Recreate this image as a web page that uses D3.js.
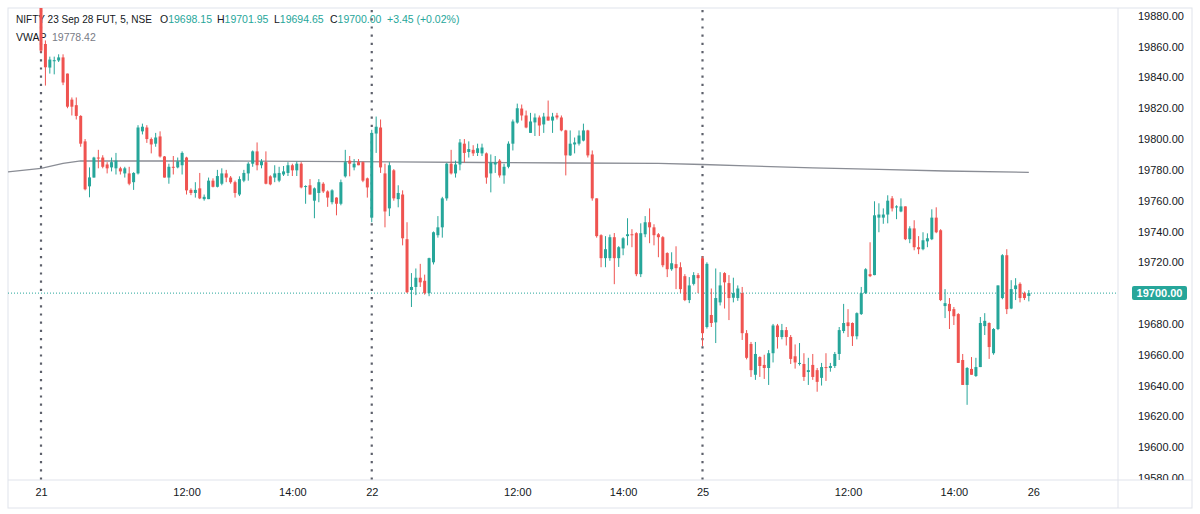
<!doctype html>
<html lang="en">

<head>
    <meta charset="UTF-8">
    <title>NIFTY 23 Sep 28 FUT, 5</title>
    <style>
        body { margin: 0; background: #fff; }
        text { font-family: "Liberation Sans", Arial, sans-serif; }
        .axis text { fill: #131722; font-size: 11px; }
        .axis .domain { display: none; }
    </style>
</head>

<body>
    <svg width="1200" height="514"></svg>
    <script src="https://cdnjs.cloudflare.com/ajax/libs/d3/7.8.5/d3.min.js"></script>
    <script type="text/javascript">
    // 5 min bars, 75 per session (21, 22, 25 Sep)
    var opens = [19892,19861.7,19846.4,19850.5,19851,19853,19842.5,19825.6,19822,19815,19798.5,19769.3,19775,19788,19788,19783.5,19781.6,19781,19781,19777.7,
        19777.7,19772,19777.7,19805,19807.5,19800,19797,19801.7,19788.7,19775,19782,19781.6,19783,19788,19767,19765,19768,19761,19761,19773,
        19769,19771,19777.7,19775,19772,19764,19773,19777.7,19784,19792,19783,19785,19775.8,19775,19773,19777,19778,19783,19779.7,19784,
        19769,19770,19760,19765,19771,19766,19759,19762,19758,19775.8,19786,19781.6,19785,19785,19774.5,
        19749,19803.6,19807.5,19777.7,19755,19779.7,19761,19764,19735,19702,19704,19710,19708,19700,19720,19737.6,19742.7,19761.5,19784,19777.7,
        19783.5,19797,19791.6,19793,19791,19790.7,19790.7,19777.7,19783.5,19786,19776.4,19782,19797,19810.7,19819.8,19815.3,19804,19810.8,19814,19809.5,
        19814.6,19812,19815.3,19814,19805.6,19789.4,19796.5,19797,19799,19805.6,19790,19761.5,19737.6,19722.7,19722.7,19736.3,19722.7,19729,19737,19738.2,
        19738.9,19712.3,19738.2,19746,19742.7,19738.2,19736.3,19726,19715.5,19718.8,19716.8,19711,19695.5,19706,19711.7,
        19722.7,19678,19685.8,19681,19694,19713,19706.5,19697,19696.8,19700,19674,19667,19647,19658.5,19653.4,19651.4,19661,19679,19671.5,19676,
        19671.5,19659,19654,19654,19648.8,19653.4,19650,19645,19652,19651.4,19652.7,19660.5,19675.4,19681,19680.6,19672,19686.4,19700,19712.3,19711.7,
        19749,19749,19751,19761.5,19755.6,19753,19756.3,19735,19742,19729.8,19728.5,19733.6,19735,19749,19740.8,19691.6,19693,19689.6,19686.4,19656.6,
        19640.4,19650.8,19646.2,19652,19678.6,19680.6,19661,19676.7,19696.8,19724.6,19690,19702.6,19706,19700,19698.15];
    var highs = [19898,19864,19853.5,19853.5,19855,19855,19842.5,19827,19827,19815.5,19800,19781.6,19788.5,19793,19789.5,19785,19788,19791,19782,19782,
        19782,19778.5,19809,19810,19809,19801,19804,19805,19789,19784,19789,19788,19792,19788.5,19768,19772,19778,19764,19775,19774.5,
        19780,19781,19780,19776,19773,19775.8,19780,19785,19792.6,19797.8,19787,19792,19776.5,19783,19782,19782.5,19785,19784,19785.5,19785,
        19770,19774,19768.6,19774,19772,19766.7,19767.4,19762.2,19773.7,19793,19789,19787,19787,19785.5,19775,
        19806,19814.6,19812.7,19784,19785,19780.5,19770,19766.7,19746,19713,19716,19719,19712,19723,19740,19750,19762.5,19784.5,19793,19786,
        19800,19800,19798.5,19796,19797,19797,19791.3,19790,19789,19787,19784,19798.5,19812.7,19823,19822.4,19818.5,19817,19816.6,19815.3,19817,
        19825,19817,19817,19815.3,19806,19805.6,19801,19805.6,19810,19806,19792.6,19761.5,19738.2,19737,19738,19739,19730.5,19736.3,19748.6,19741.5,
        19739.5,19745.3,19750,19755,19744.7,19739,19737,19726.5,19726.5,19730.4,19720,19712.3,19710.4,19713.6,19713,
        19724,19720,19703,19716,19713.6,19713.6,19711.7,19710,19705,19704,19676,19668.3,19668.3,19659,19660,19663,19680,19680,19680,19678,
        19672.8,19666.7,19667.6,19661,19658,19660.5,19651.4,19654.7,19661,19654.7,19661.8,19678,19693,19689.6,19681,19687.5,19704,19716.2,19733,19759.6,
        19758.3,19755,19763.5,19763,19757,19761.5,19756.3,19743.4,19747.3,19737,19739.5,19738.8,19754.4,19755.7,19741.5,19702.6,19696.8,19691,19687,19660.5,
        19652,19658.5,19658,19684.5,19687,19681,19677.3,19705,19725.3,19728.5,19708.4,19709.7,19707,19701,19701.95];
    var lows = [19856,19834.7,19842.5,19842,19850,19835,19820,19815.3,19812.7,19795,19766.7,19762.2,19775,19781,19781,19777.7,19779,19777,19777,19775,
        19770,19767,19777,19803,19797.5,19790.7,19795,19788,19775,19771,19777,19781,19777,19764,19763.6,19762,19761,19760,19761,19768.6,
        19768.6,19770,19772,19771,19762,19763,19772,19773,19782,19779.7,19781,19770.6,19770,19772,19772,19776,19776,19776,19776,19768,
        19758,19764,19748.6,19759,19765,19756,19757.6,19750.5,19757,19775,19775.8,19779.7,19783,19772,19762,
        19746,19791,19778,19742.7,19750,19760,19755.7,19731,19700,19691,19698.7,19704,19699,19698,19718.6,19736,19736,19760,19777,19775,
        19779.7,19784.8,19788,19789,19789,19789,19771,19765.4,19778,19775,19771,19781,19792.6,19810,19812,19807,19804,19802,19802,19804,
        19812,19804,19812.7,19805,19776.4,19789,19790.7,19795.8,19798.5,19788,19760,19736,19716.8,19716.8,19721,19705.8,19717,19724.6,19731,19729.8,
        19711,19710.4,19736.3,19732.4,19731,19723.3,19716.8,19710.4,19714.5,19702.6,19700,19694.8,19693.5,19705,19700,
        19665.7,19677,19678,19667.6,19692,19690,19682.5,19694,19695,19669.6,19657,19645.6,19643.7,19645.6,19644.3,19640.4,19655,19664,19670,19666,
        19654,19651,19653,19643,19640.4,19643.7,19636,19640,19643,19649,19651.4,19656.6,19674,19671.5,19665.7,19670,19685.8,19699.4,19710.4,19711.6,
        19739.5,19745,19745.3,19753,19748,19752.5,19734.4,19732.4,19727.8,19725.3,19727.8,19729.8,19734.4,19738.9,19694.8,19683.8,19676.7,19679.3,19654.7,19640.4,
        19627.5,19647,19645.6,19652,19672.8,19657.3,19660,19676,19696,19686.4,19689.6,19695.5,19694,19695.5,19694.65];
    var closes = [19857.4,19846.6,19851.6,19851.2,19853,19836.7,19821,19821,19815,19797,19767.4,19775.1,19788,19787.5,19782,19781,19785,19786,19779,19781,
        19771,19778,19807.5,19808,19800,19796.5,19801,19788.7,19775,19782,19781.5,19785.5,19791,19766.7,19765,19767,19761.5,19762.5,19773,19769,
        19776,19777.7,19775,19772,19765,19774,19778,19784,19792,19783,19785.5,19771,19770.6,19777.7,19778,19779,19783,19779.7,19784,19768.6,
        19769.5,19764,19768,19772,19766,19762,19766.7,19758,19772,19785,19784,19784,19783,19773,19768.6,
        19804,19808,19781.6,19753,19783,19761.5,19765,19735.6,19700.6,19704,19710,19707,19700,19722.7,19739.5,19742.7,19761.5,19784,19777.7,19783.5,
        19797.8,19791,19793.5,19790.7,19794,19794.5,19775,19784.8,19784.8,19776.4,19782,19797,19811.4,19820,19815.3,19807.5,19811.4,19814,19808.8,19814.6,
        19812,19814.6,19814,19805.6,19789.4,19797,19797.8,19802.3,19805.6,19789.4,19761.5,19737,19722.7,19728.5,19736.3,19722.7,19729.8,19735.6,19738.2,19737.6,
        19712.3,19738.9,19746,19742.7,19737.6,19736.3,19718.1,19715.5,19719.4,19716.2,19702.6,19695.5,19705,19711.7,19709.7,
        19674,19719,19680.6,19696.8,19705,19707,19696.8,19700,19703,19674,19658,19650,19660.5,19652.7,19651.4,19661,19679,19671.5,19676,19671.5,
        19657.3,19655,19654.7,19645.6,19650,19645.6,19642.4,19652,19651.4,19652.7,19660.5,19676,19680.6,19678.6,19672,19687,19700,19715.5,19711,19750.5,
        19751,19751,19760,19755,19756.3,19756.3,19735,19742,19729.8,19728.5,19734.3,19735.6,19749,19739.5,19695.5,19693.5,19688.3,19685,19654.7,19640.4,
        19651.4,19647,19652,19680.6,19682,19665,19676.7,19705,19724.6,19689.6,19702.6,19705,19696.8,19696.8,19700];

    // VWAP read at a few bars: [bar, value]
    var vwapPoints = [[-7.5,19778.7],[0,19781],[5,19784.2],[9,19785.8],[20,19785.8],[40,19785.8],[60,19785.5],[80,19785.2],
        [100,19784.8],[120,19784.5],[140,19784.2],[150,19783.5],[160,19782.6],[175,19781.3],[190,19780.3],[205,19779.3],[224,19778.4]];

    var priceTicks = [19580,19600,19620,19640,19660,19680,19700,19720,19740,19760,19780,19800,19820,19840,19860,19880];
    var timeLabels = ['21','12:00','14:00','22','12:00','14:00','25','12:00','14:00','26'];
    var timeBars = [0,33,57,75,108,132,150,183,207,225];
    var sessionStarts = [0,75,150];
    var lastPrice = 19700;

    var upColor = '#26a69a', downColor = '#ef5350';

    var svg = d3.select('svg'),
        plot = {left: 8, top: 8, right: 1118, bottom: 480},
        frame = {right: 1192, bottom: 508};

    var x = d3.scaleLinear()
        .domain([0, 225])
        .range([41, 41 + 225 * 4.41]);
    var y = d3.scaleLinear()
        .domain([19580, 19880])
        .range([478, 15.8]);

    svg.append('clipPath').attr('id', 'plotclip')
        .append('rect')
        .attr('x', plot.left).attr('y', plot.top)
        .attr('width', plot.right - plot.left).attr('height', plot.bottom - plot.top);
    svg.append('clipPath').attr('id', 'axisclip')
        .append('rect')
        .attr('x', plot.right).attr('y', plot.top)
        .attr('width', frame.right - plot.right).attr('height', plot.bottom - plot.top);

    // frame
    svg.append('rect')
        .attr('x', plot.left).attr('y', plot.top)
        .attr('width', frame.right - plot.left).attr('height', frame.bottom - plot.top)
        .attr('fill', 'none').attr('stroke', '#e0e3eb');
    svg.append('line')
        .attr('x1', plot.right).attr('x2', plot.right)
        .attr('y1', plot.top).attr('y2', frame.bottom)
        .attr('stroke', '#e0e3eb');
    svg.append('line')
        .attr('x1', plot.left).attr('x2', frame.right)
        .attr('y1', plot.bottom).attr('y2', plot.bottom)
        .attr('stroke', '#e0e3eb');

    // header
    var head = svg.append('g').attr('font-size', '10.5px');
    head.append('text').attr('x', 16).attr('y', 23).attr('fill', '#131722')
        .attr('textLength', 136).attr('lengthAdjust', 'spacingAndGlyphs')
        .text('NIFTY 23 Sep 28 FUT, 5, NSE');
    var ohlc = [['O', '19698.15', 160], ['H', '19701.95', 217], ['L', '19694.65', 274], ['C', '19700.00', 330]];
    ohlc.forEach(function(d) {
        var t = head.append('text').attr('x', d[2]).attr('y', 23);
        t.append('tspan').attr('fill', '#131722').text(d[0]);
        t.append('tspan').attr('fill', upColor).text(d[1]);
    });
    head.append('text').attr('x', 387).attr('y', 23).attr('fill', upColor).text('+3.45 (+0.02%)');
    head.append('text').attr('x', 16).attr('y', 41).attr('fill', '#131722').text('VWAP');
    head.append('text').attr('x', 52).attr('y', 41).attr('fill', '#787b86').text('19778.42');

    var g = svg.append('g').attr('clip-path', 'url(#plotclip)');

    // session breaks
    g.selectAll('.sep')
        .data(sessionStarts)
        .enter().append('line')
        .attr('class', 'sep')
        .attr('x1', function(d) { return x(d); })
        .attr('x2', function(d) { return x(d); })
        .attr('y1', plot.top + 2).attr('y2', plot.bottom)
        .attr('stroke', '#5d606b')
        .attr('stroke-width', 2.2)
        .attr('stroke-dasharray', '2.2 6');

    // last price line
    g.append('line')
        .attr('x1', plot.left).attr('x2', plot.right)
        .attr('y1', y(lastPrice)).attr('y2', y(lastPrice))
        .attr('stroke', upColor)
        .attr('stroke-dasharray', '1 2');

    // vwap
    g.append('path')
        .datum(vwapPoints)
        .attr('fill', 'none')
        .attr('stroke', '#8a8d95')
        .attr('stroke-width', 1.4)
        .attr('d', d3.line()
            .x(function(d) { return x(d[0]); })
            .y(function(d) { return y(d[1]); }));

    // candles
    var bars = opens.map(function(o, i) {
        return {i: i, o: o, h: highs[i], l: lows[i], c: closes[i]};
    });
    var candle = g.selectAll('.candle')
        .data(bars)
        .enter().append('g')
        .attr('class', 'candle')
        .attr('fill', function(d) { return d.c >= d.o ? upColor : downColor; })
        .attr('stroke', function(d) { return d.c >= d.o ? upColor : downColor; });
    candle.append('line')
        .attr('x1', function(d) { return x(d.i); })
        .attr('x2', function(d) { return x(d.i); })
        .attr('y1', function(d) { return y(d.h); })
        .attr('y2', function(d) { return y(d.l); })
        .attr('stroke-width', 1);
    candle.append('rect')
        .attr('stroke', 'none')
        .attr('x', function(d) { return x(d.i) - 1.5; })
        .attr('width', 3)
        .attr('y', function(d) { return y(Math.max(d.o, d.c)); })
        .attr('height', function(d) { return Math.max(1, Math.abs(y(d.o) - y(d.c))); });

    // price axis
    svg.append('g')
        .attr('clip-path', 'url(#axisclip)')
        .append('g')
        .attr('class', 'axis')
        .attr('transform', 'translate(' + plot.right + ',0)')
        .call(d3.axisRight(y).tickValues(priceTicks).tickFormat(d3.format('.2f')).tickSize(0).tickPadding(20));

    svg.append('rect')
        .attr('x', 1132).attr('y', y(lastPrice) - 7)
        .attr('width', 55).attr('height', 14)
        .attr('rx', 2)
        .attr('fill', upColor);
    svg.append('text')
        .attr('x', 1159.5).attr('y', y(lastPrice))
        .attr('dy', '0.35em')
        .attr('text-anchor', 'middle')
        .attr('font-size', '11px')
        .attr('font-weight', 'bold')
        .attr('fill', '#fff')
        .text(d3.format('.2f')(lastPrice));

    // time axis
    svg.append('g')
        .attr('class', 'axis')
        .attr('transform', 'translate(0,' + plot.bottom + ')')
        .call(d3.axisBottom(x).tickValues(timeBars).tickFormat(function(d, i) { return timeLabels[i]; }).tickSize(0).tickPadding(8));
    </script>
</body>

</html>
